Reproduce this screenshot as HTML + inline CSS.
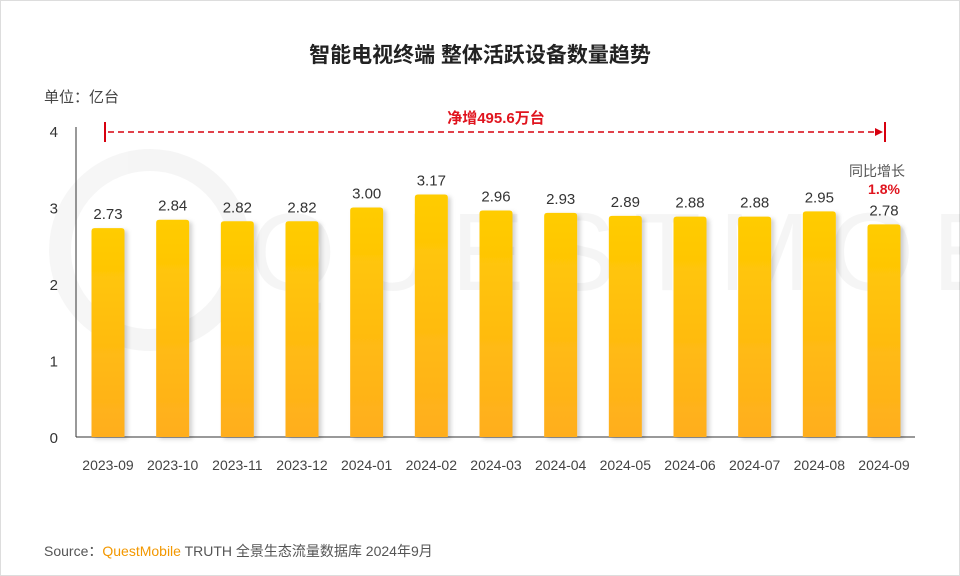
<!DOCTYPE html>
<html><head><meta charset="utf-8">
<style>
body{margin:0;background:#fff;}
svg{display:block;font-family:"Liberation Sans","Noto Sans CJK SC",sans-serif;}
</style></head>
<body>
<svg id="chart" width="960" height="576" viewBox="0 0 960 576">
<defs>
<linearGradient id="bg" x1="0" y1="0" x2="0" y2="1">
<stop offset="0" stop-color="#FFCC00"/><stop offset="1" stop-color="#FFAE1E"/>
</linearGradient>
<filter id="sh" x="-30%" y="-10%" width="160%" height="130%"><feDropShadow dx="3" dy="2" stdDeviation="2" flood-color="#000" flood-opacity="0.18"/></filter>
</defs>
<rect x="0.5" y="0.5" width="959" height="575" fill="#fff" stroke="#ddd"/>
<g opacity="0.035">
<circle cx="150" cy="250" r="90" fill="none" stroke="#000" stroke-width="22"/>
<text x="250" y="290" font-size="110" fill="#000" letter-spacing="18">QUESTMOBILE</text>
</g>
<text x="480" y="62" text-anchor="middle" font-size="21" font-weight="bold" fill="#222">智能电视终端 整体活跃设备数量趋势</text>
<text x="44" y="102" font-size="15" fill="#444">单位：亿台</text>
<g id="yaxis"></g>
<g id="bars"></g>
<g id="xlabels"></g>
<g>
<line x1="105" y1="122" x2="105" y2="142" stroke="#D7000F" stroke-width="2"/>
<line x1="885" y1="122" x2="885" y2="142" stroke="#D7000F" stroke-width="2"/>
<line x1="108" y1="132" x2="876" y2="132" stroke="#D7000F" stroke-width="1.5" stroke-dasharray="6,4"/>
<polygon points="883,132 875,128 875,136" fill="#D7000F"/>
<rect x="440" y="108" width="112" height="20" fill="#fff"/>
<text x="496" y="123" text-anchor="middle" font-size="15" font-weight="bold" fill="#E0141E">净增495.6万台</text>
</g>
<text x="877" y="176" text-anchor="middle" font-size="14" fill="#555">同比增长</text>
<text x="884" y="194" text-anchor="middle" font-size="14" font-weight="bold" fill="#E0141E">1.8%</text>
<text x="44" y="556" font-size="14" fill="#555">Source：<tspan fill="#F39800">QuestMobile</tspan> TRUTH 全景生态流量数据库 2024年9月</text>
</svg>
<script>
const categories=["2023-09","2023-10","2023-11","2023-12","2024-01","2024-02","2024-03","2024-04","2024-05","2024-06","2024-07","2024-08","2024-09"];
const values=[2.73,2.84,2.82,2.82,3.00,3.17,2.96,2.93,2.89,2.88,2.88,2.95,2.78];
const yTicks=[0,1,2,3,4];
const NS="http://www.w3.org/2000/svg";
const y0=437,yTop=131,yMax=4;
function yScale(v){return y0-(v/yMax)*(y0-yTop);}
const x0=108,step=(884-108)/12;
function xScale(i){return x0+i*step;}
function mk(t,a,p){const e=document.createElementNS(NS,t);for(const k in a)e.setAttribute(k,a[k]);p.appendChild(e);return e;}
const ya=document.getElementById('yaxis');
mk('line',{x1:76,y1:yTop-4,x2:76,y2:y0,stroke:'#333','stroke-width':1},ya);
mk('line',{x1:76,y1:y0,x2:915,y2:y0,stroke:'#333','stroke-width':1},ya);
yTicks.forEach(t=>{const e=mk('text',{x:58,y:yScale(t)+6,'text-anchor':'end','font-size':15,fill:'#333'},ya);e.textContent=t;

});
const bg=document.getElementById('bars'),xl=document.getElementById('xlabels');
const bw=33;
values.forEach((v,i)=>{const cx=xScale(i),top=yScale(v);
const g=mk('g',{},bg);


mk('path',{d:`M${cx-bw/2},${y0} L${cx-bw/2},${top+3} Q${cx-bw/2},${top} ${cx-bw/2+3},${top} L${cx+bw/2-3},${top} Q${cx+bw/2},${top} ${cx+bw/2},${top+3} L${cx+bw/2},${y0} Z`,fill:'url(#bg)',filter:'url(#sh)'},g);
const t=mk('text',{x:cx,y:top-9,'text-anchor':'middle','font-size':15,fill:'#333'},bg);t.textContent=v.toFixed(2);


const l=mk('text',{x:cx,y:470,'text-anchor':'middle','font-size':14,fill:'#444'},xl);l.textContent=categories[i];

});
</script>
</body></html>
